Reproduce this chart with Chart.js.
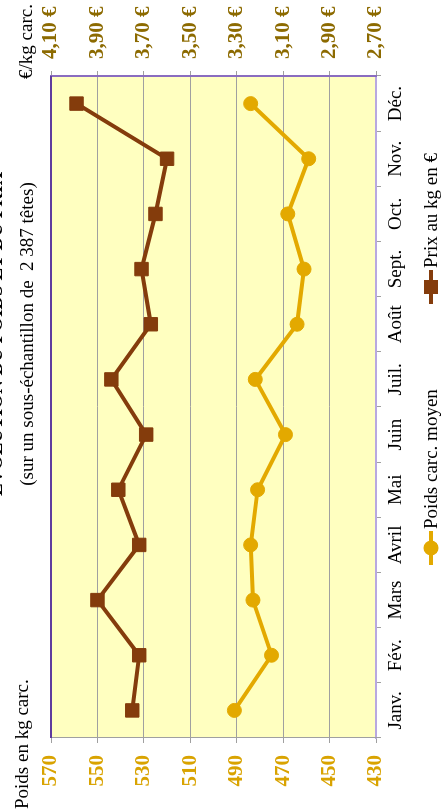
<!DOCTYPE html>
<html lang="fr">
<head>
<meta charset="utf-8">
<title>Poids et prix</title>
<script src="https://cdn.jsdelivr.net/npm/chart.js@4.4.1/dist/chart.umd.min.js"></script>
<style>
html, body { margin:0; padding:0; background:#fff; overflow:hidden; }
#cadre { position:relative; width:441px; height:812px; overflow:hidden; }
/* le graphique est dessiné à l'horizontale puis tourné d'un quart de tour */
#graphique { position:absolute; left:0; top:0; transform-origin:0 0; transform:translate(0px, 812px) rotate(-90deg); }
</style>
</head>
<body>
<div id="cadre"><canvas id="graphique" width="812" height="441"></canvas></div>
<script>
//mois
var mois = ["Janv.","Fév.","Mars","Avril","Mai","Juin","Juil.","Août","Sept.","Oct.","Nov.","Déc."];
//poids carcasse moyen (kg)
var poids = [491,475,483,484,481,469,482,464,461,468,459,484];
//prix au kg (€)
var prix = [3.75,3.72,3.90,3.72,3.81,3.69,3.84,3.67,3.71,3.65,3.60,3.99];
//graduations
var gradPoids = [430,450,470,490,510,530,550,570];
var gradPrix = [2.70,2.90,3.10,3.30,3.50,3.70,3.90,4.10];
//textes
var titre = ["EVOLUTION DU POIDS ET DU PRIX", "(sur un sous-échantillon de  2 387 têtes)"];
var titrePoids = "Poids en kg carc.";
var titrePrix = "€/kg carc.";

var police = '"Liberation Serif", "Times New Roman", serif';
var OR = '#E3A900';
var BRUN = '#843C0C';

//fond jaune, bord haut, titres et légende
var habillage = {
	id: 'habillage',
	beforeDraw(chart){
		var c = chart.ctx, a = chart.chartArea;
		c.save();
		c.fillStyle = '#FFFFC0';
		c.fillRect(a.left, a.top, a.right - a.left, a.bottom - a.top);
		c.restore();
	},
	afterDraw(chart){
		var c = chart.ctx, a = chart.chartArea;
		c.save();
		c.strokeStyle = '#5F3C9E';
		c.lineWidth = 2;
		c.beginPath();
		c.moveTo(a.left, a.top);
		c.lineTo(a.right, a.top);
		c.stroke();

		c.fillStyle = '#000';
		c.textBaseline = 'alphabetic';
		c.textAlign = 'center';
		c.font = 'bold 19px ' + police;
		c.fillText(titre[0], 478, 1.5);
		c.font = '19px ' + police;
		c.fillText(titre[1], 478, 33);
		c.textAlign = 'left';
		c.fillText(titrePoids, 3, 28);
		c.textAlign = 'right';
		c.fillText(titrePrix, 808, 32);

		//légende
		var departs = [247, 508];
		var y = 431;
		chart.data.datasets.forEach(function(ds, i){
			var x = departs[i];
			c.strokeStyle = ds.borderColor;
			c.lineWidth = ds.borderWidth;
			c.beginPath();
			c.moveTo(x, y);
			c.lineTo(x + 34, y);
			c.stroke();
			c.fillStyle = ds.borderColor;
			if(ds.pointStyle == 'rect'){
				c.fillRect(x + 17 - 7, y - 7, 14, 14);
			} else {
				c.beginPath();
				c.arc(x + 17, y, 7.5, 0, Math.PI * 2);
				c.fill();
			}
			c.fillStyle = '#000';
			c.textAlign = 'left';
			c.fillText(ds.label, x + 36, y + 6);
		});
		c.restore();
	}
};

new Chart(document.getElementById('graphique'), {
	type: 'line',
	data: {
		labels: mois,
		datasets: [{
			label: 'Poids carc. moyen',
			data: poids,
			yAxisID: 'yPoids',
			borderColor: OR,
			backgroundColor: OR,
			pointBackgroundColor: OR,
			pointBorderColor: OR,
			borderWidth: 4,
			pointStyle: 'circle',
			pointRadius: 7,
			pointBorderWidth: 1,
			fill: false
		}, {
			label: 'Prix au kg en €',
			data: prix,
			yAxisID: 'yPrix',
			borderColor: BRUN,
			backgroundColor: BRUN,
			pointBackgroundColor: BRUN,
			pointBorderColor: BRUN,
			borderWidth: 4,
			pointStyle: 'rect',
			pointRadius: 9.5,
			pointBorderWidth: 1,
			fill: false
		}]
	},
	options: {
		responsive: false,
		animation: false,
		layout: { padding: { top: 51, left: 0, right: 0, bottom: 0 } },
		plugins: { legend: { display: false }, tooltip: { enabled: false } },
		scales: {
			x: {
				type: 'category',
				offset: true,
				grid: { drawOnChartArea: false, tickLength: 5, color: '#A0A0A0', offset: true },
				border: { color: '#B8A8E0', width: 2 },
				ticks: { color: '#000', font: { family: police, size: 19 }, padding: 4, maxRotation: 0, autoSkip: false },
				afterFit(s){ s.height = 65; }
			},
			yPoids: {
				position: 'left',
				min: 430,
				max: 570,
				afterBuildTicks(s){ s.ticks = gradPoids.map(v => ({ value: v })); },
				grid: { color: '#A0A0A0', tickLength: 5 },
				border: { color: '#A0A0A0', width: 1 },
				ticks: { color: '#D9A300', font: { family: police, size: 21, weight: 'bold' }, padding: 12 },
				afterFit(s){ s.width = 74; }
			},
			yPrix: {
				position: 'right',
				min: 2.7,
				max: 4.1,
				afterBuildTicks(s){ s.ticks = gradPrix.map(v => ({ value: v })); },
				grid: { drawOnChartArea: false, color: '#A0A0A0', tickLength: 5 },
				border: { color: '#8A6CC0', width: 2 },
				ticks: {
					color: '#8C6A00',
					font: { family: police, size: 21, weight: 'bold' },
					padding: 12,
					callback: v => v.toFixed(2).replace('.', ',') + ' €'
				},
				afterFit(s){ s.width = 76; }
			}
		}
	},
	plugins: [habillage]
});
</script>
</body>
</html>
